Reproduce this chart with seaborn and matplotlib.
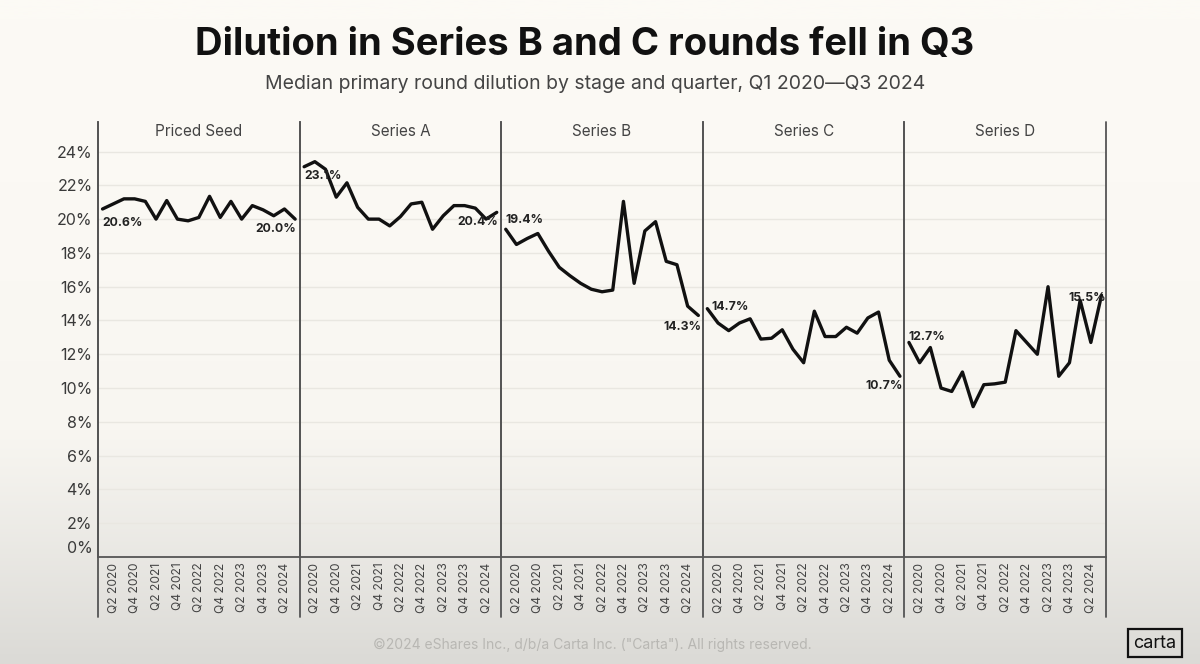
import numpy as np
import pandas as pd
import matplotlib
matplotlib.use("Agg")
import matplotlib.pyplot as plt
import matplotlib.transforms as mtransforms
from matplotlib.colors import LinearSegmentedColormap
from matplotlib.lines import Line2D
import seaborn as sns

# Quarters Q1 2020 .. Q3 2024
quarters = [f"Q{q} {y}" for y in range(2020, 2025) for q in range(1, 5)][:19]
stages = ["Priced Seed", "Series A", "Series B", "Series C", "Series D"]

priced_seed = [20.6, 20.9, 21.2, 21.2, 21.05, 20.0, 21.1, 20.0, 19.9, 20.1,
               21.35, 20.1, 21.05, 20.0, 20.8, 20.55, 20.2, 20.6, 20.0]
series_a = [23.1, 23.4, 22.95, 21.3, 22.15, 20.7, 20.0, 20.0, 19.6, 20.15,
            20.9, 21.0, 19.4, 20.2, 20.8, 20.8, 20.65, 20.0, 20.4]
series_b = [19.4, 18.5, 18.85, 19.15, 18.1, 17.15, 16.65, 16.2, 15.85, 15.7,
            15.8, 21.05, 16.2, 19.3, 19.85, 17.5, 17.3, 14.85, 14.3]
series_c = [14.7, 13.85, 13.4, 13.85, 14.1, 12.9, 12.95, 13.45, 12.3, 11.5,
            14.55, 13.05, 13.05, 13.6, 13.25, 14.15, 14.5, 11.65, 10.7]
series_d = [12.7, 11.5, 12.4, 10.0, 9.8, 10.95, 8.9, 10.2, 10.25, 10.35,
            13.4, 12.7, 12.0, 16.0, 10.7, 11.5, 15.2, 12.7, 15.5]
values = [priced_seed, series_a, series_b, series_c, series_d]

tick_pos = list(range(1, 19, 2))
tick_labels = [quarters[i] for i in tick_pos]
y_ticks = list(range(0, 25, 2))

df = pd.DataFrame({
    "stage": np.repeat(stages, len(quarters)),
    "idx": np.tile(np.arange(len(quarters)), len(stages)),
    "value": np.concatenate(values),
})

sns.set_theme(style="white")
plt.rcParams["font.family"] = ["Inter", "DejaVu Sans"]

g = sns.relplot(data=df, x="idx", y="value", col="stage", kind="line",
                color="#111111", linewidth=2.4, height=4, aspect=0.5,
                facet_kws=dict(sharey=True, sharex=True))
fig = g.figure
fig.set_size_inches(12, 6.64)
fig.set_dpi(100)
fig.subplots_adjust(left=0.0817, right=0.9217, top=0.8163, bottom=0.1611, wspace=0)

# background gradient
bg = fig.add_axes([0, 0, 1, 1], zorder=-10)
cmap = LinearSegmentedColormap.from_list("bg", ["#fcfaf5", "#f8f6f1", "#dbdad6"])
grad = np.linspace(0, 1, 256).reshape(-1, 1) ** 1.6
bg.imshow(grad, aspect="auto", cmap=cmap, extent=[0, 1, 0, 1], origin="upper")
bg.axis("off")

line_col = "#555555"
for ax, stage in zip(g.axes.flat, stages):
    ax.set_facecolor("none")
    ax.set_xlim(-0.42, 18.42)
    ax.set_ylim(0, 25.75)
    ax.set_xticks(tick_pos)
    ax.set_xticklabels(tick_labels, rotation=90, fontsize=8.7, color="#444444")
    ax.set_yticks(y_ticks)
    ax.set_yticklabels([f"{v}%" for v in y_ticks], fontsize=11.5, color="#3a3a3a")
    ax.tick_params(length=0, pad=4)
    ax.grid(axis="y", color="#e9e7e1", linewidth=1)
    ax.set_xlabel("")
    ax.set_ylabel("")
    ax.set_title("")
    ax.text(0.5, 0.995, stage, transform=ax.transAxes, ha="center", va="top",
            fontsize=11, color="#444444")
    for side in ["top", "right"]:
        ax.spines[side].set_visible(False)
    ax.spines["left"].set_color(line_col)
    ax.spines["left"].set_linewidth(1.3)
    ax.spines["bottom"].set_color(line_col)
    ax.spines["bottom"].set_linewidth(1.3)

# nudge 0% label up like the original
ax0 = g.axes.flat[0]
for lab in ax0.get_yticklabels():
    if lab.get_text() == "0%":
        lab.set_transform(lab.get_transform() + mtransforms.ScaledTranslation(0, 10 / 100, fig.dpi_scale_trans))

# value labels (first / last point)
first_offsets = [(0, -10, "left", "center"), (0, -7, "left", "center"),
                 (0, 7, "left", "center"), (3, 1, "left", "center"),
                 (0, 4, "left", "center")]
last_offsets = [(1, -7, "right", "center"), (1, -7, "right", "center"),
                (2, -8, "right", "center"), (2, -7, "right", "center"),
                (3, -2, "right", "center")]
for ax, vals, fo, lo in zip(g.axes.flat, values, first_offsets, last_offsets):
    ax.annotate(f"{vals[0]:.1f}%", (0, vals[0]), xytext=fo[:2], textcoords="offset points",
                ha=fo[2], va=fo[3], fontsize=8.8, fontweight="bold", color="#222222")
    ax.annotate(f"{vals[-1]:.1f}%", (18, vals[-1]), xytext=lo[:2], textcoords="offset points",
                ha=lo[2], va=lo[3], fontsize=8.8, fontweight="bold", color="#222222")

# separators extending through the tick label area
edges = [ax.get_position().x0 for ax in g.axes.flat] + [g.axes.flat[-1].get_position().x1]
for x in edges:
    fig.add_artist(Line2D([x, x], [1 - 617 / 664, 0.8163], transform=fig.transFigure,
                          color=line_col, linewidth=1.3))

fig.text(0.487, 0.932, "Dilution in Series B and C rounds fell in Q3", ha="center", va="center",
         fontsize=27.5, fontweight="bold", color="#111111")
fig.text(0.496, 0.873, "Median primary round dilution by stage and quarter, Q1 2020\u2014Q3 2024",
         ha="center", va="center", fontsize=14, color="#444444")
fig.text(0.494, 0.029, "\u00a92024 eShares Inc., d/b/a Carta Inc. (\"Carta\"). All rights reserved.",
         ha="center", va="center", fontsize=10, color="#b8b7b3")
fig.text(0.9625, 0.031, "carta", ha="center", va="center", fontsize=13, color="#111111",
         bbox=dict(boxstyle="square,pad=0.3", facecolor="none", edgecolor="#111111", linewidth=1.6))

fig.savefig("out.png", dpi=100)
